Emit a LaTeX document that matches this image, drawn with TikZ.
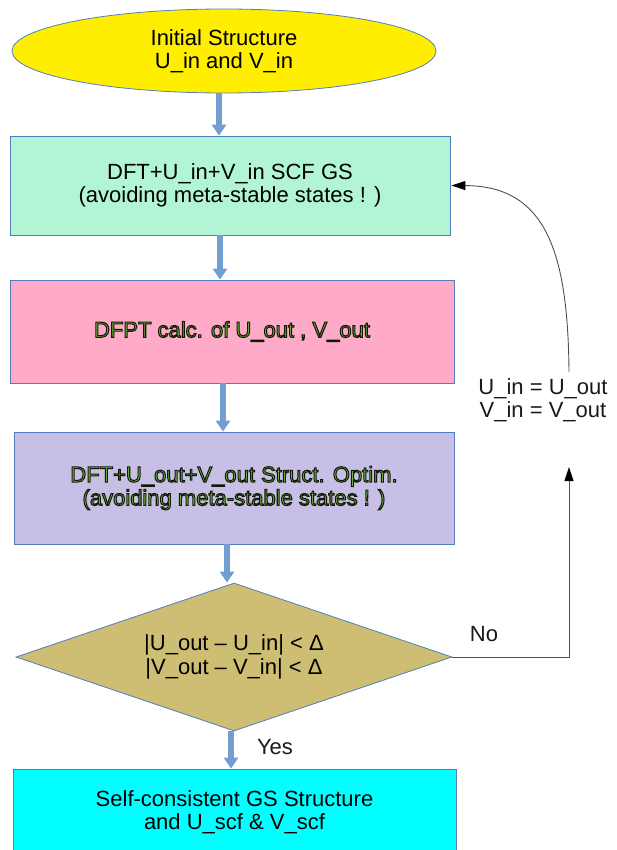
\documentclass[tikz,border=0pt]{standalone}
\usepackage{fontspec}
\setmainfont{Liberation Sans}
\usetikzlibrary{shapes.geometric,arrows.meta}
\definecolor{ellfill}{RGB}{255,238,0}
\definecolor{mint}{RGB}{178,245,212}
\definecolor{pinkbox}{RGB}{255,170,200}
\definecolor{lavender}{RGB}{199,191,230}
\definecolor{khaki}{RGB}{205,190,115}
\definecolor{cyanbox}{RGB}{0,255,255}
\definecolor{bordc}{RGB}{84,125,190}
\definecolor{arrc}{RGB}{114,159,207}
\definecolor{loopc}{RGB}{80,80,80}
\definecolor{gfill}{RGB}{119,190,66}
\newcommand{\gtext}[1]{{\color{gfill}\special{pdf:code 2 Tr 1.05 w 0.07 0.1 0.03 RG}#1\special{pdf:code 0 Tr}}}
\begin{document}
\begin{tikzpicture}[x=1pt,y=-1pt,
  base/.style={draw=bordc, line width=0.8pt, inner sep=0pt, align=center,
    font=\fontsize{22}{23.3}\selectfont},
  boxnode/.style={base, rectangle},
  blockarr/.style={draw=arrc, line width=6.5pt, -{Triangle[length=11pt,width=14pt]}},
  looparr/.style={draw=loopc, line width=0.9pt, -{Triangle[length=14pt,width=9pt,color=black]}},
  lbl/.style={inner sep=0pt, align=center, text=black!90, font=\fontsize{22}{23.3}\selectfont}]
\useasboundingbox (0,0) rectangle (616,850);

\node[base, ellipse, fill=ellfill, minimum width=424pt, minimum height=84pt] (ell) at (224,51)
  {Initial Structure\\U\_in and V\_in};
\node[boxnode, fill=mint, minimum width=440pt, minimum height=99pt] (b1) at (230,185.5)
  {DFT+U\_in+V\_in SCF GS\\(avoiding meta-stable states ! )};
\node[boxnode, fill=pinkbox, minimum width=444pt, minimum height=103pt] (b2) at (232,331.5)
  {\gtext{DFPT calc. of U\_out , V\_out}};
\node[boxnode, fill=lavender, minimum width=440pt, minimum height=112pt] (b3) at (234,488)
  {\gtext{DFT+U\_out+V\_out Struct. Optim.}\\\gtext{(avoiding meta-stable states ! )}};
\node[base, diamond, aspect=2.95, fill=khaki, minimum width=436pt, minimum height=148pt] (dia) at (234,657)
  {|U\_out – U\_in| < Δ\\|V\_out – V\_in| < Δ};
\node[boxnode, fill=cyanbox, minimum width=443pt, minimum height=86pt] (b5) at (234.5,812)
  {Self-consistent GS Structure\\and U\_scf \& V\_scf};

\node[lbl] (upd) at (543,400) {U\_in = U\_out\\V\_in = V\_out};
\node[lbl] (no) at (484,634) {No};
\node[lbl] (yes) at (275,747) {Yes};

\coordinate (loopbot) at (569,467);
\coordinate (looptop) at (569,372);

\draw[blockarr] ([xshift=-5pt]ell.south) -- ([xshift=-5pt]ell.south |- b1.north);
\draw[blockarr] ([xshift=-10pt]b1.south) -- ([xshift=-10pt]b1.south |- b2.north);
\draw[blockarr] ([xshift=-9pt]b2.south) -- ([xshift=-9pt]b2.south |- b3.north);
\draw[blockarr] ([xshift=-7pt]b3.south) -- ([xshift=-7pt]b3.south |- dia.north);
\draw[blockarr] ([xshift=-3pt]dia.south) -- ([xshift=-3pt]dia.south |- b5.north);

\draw[looparr] (dia.east) -| (loopbot);
\draw[looparr] (looptop) .. controls (568,250) and (545,186) .. ([xshift=1pt]b1.east);
\end{tikzpicture}
\end{document}
